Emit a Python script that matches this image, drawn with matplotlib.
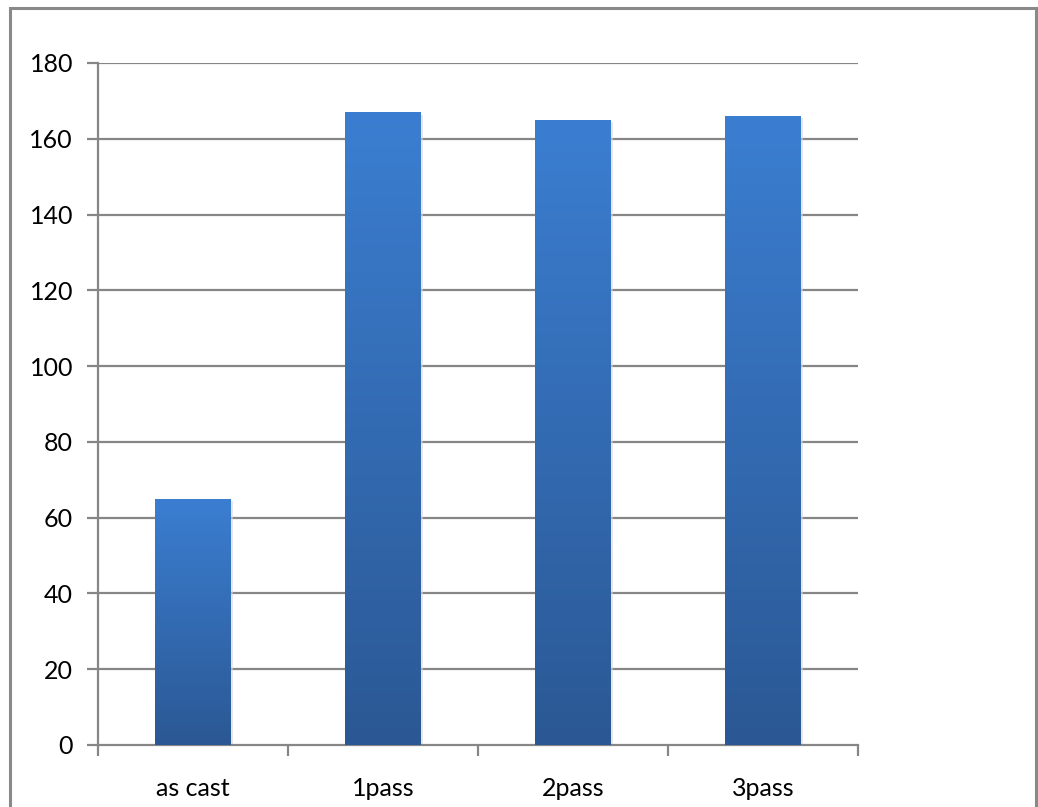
import matplotlib
matplotlib.use("Agg")
import matplotlib.pyplot as plt
import numpy as np
from matplotlib.patches import Rectangle
from matplotlib.colors import LinearSegmentedColormap

categories = ["as cast", "1pass", "2pass", "3pass"]
values = [65, 167, 165, 166]
yticks = [0, 20, 40, 60, 80, 100, 120, 140, 160, 180]

plt.rcParams['font.family'] = ['Lato', 'DejaVu Sans']

W, H = 1038, 807
fig = plt.figure(figsize=(W/100, H/100), dpi=100)
fig.patch.set_facecolor('white')

# outer chart border
border = Rectangle((9.5/W, -0.05), (1036-9.5)/W, 1.05 - 7.5/H,
                   transform=fig.transFigure, fill=False,
                   edgecolor='#898989', linewidth=2.2, zorder=0)
fig.add_artist(border)

ax = fig.add_axes([98/W, 1-745/H, (858-98)/W, (745-63)/H])

gray = '#868686'
for s in ['top', 'right']:
    ax.spines[s].set_visible(False)
for s in ['left', 'bottom']:
    ax.spines[s].set_color(gray)
    ax.spines[s].set_linewidth(1.6)

ax.set_yticks(yticks)
ax.set_yticklabels([str(v) for v in yticks], fontsize=18)
ax.tick_params(axis='y', length=8, width=1.6, color=gray, pad=10)
for y in yticks[1:]:
    ax.axhline(y, color=gray, linewidth=1.6, zorder=1)

x = np.arange(len(categories))
ax.set_xticks(x)
ax.set_xticklabels(categories, fontsize=18)
ax.tick_params(axis='x', which='major', length=0, pad=23)
ax.set_xticks(np.arange(-0.5, len(categories)), minor=True)
ax.tick_params(axis='x', which='minor', length=8, width=1.6, color=gray)

cmap = LinearSegmentedColormap.from_list('bar', ['#2b5894', '#3b7ed1'])
grad = np.linspace(0, 1, 256).reshape(-1, 1)
bw = 0.4
bars = ax.bar(x, values, width=bw, color='none', zorder=3)
for b, v in zip(bars, values):
    x0 = b.get_x()
    ax.add_patch(Rectangle((x0+0.008, 0), bw, v-0.6, facecolor='#d8d8d8',
                           edgecolor='none', zorder=2, alpha=0.6))
    im = ax.imshow(grad, cmap=cmap, aspect='auto', origin='lower',
                   extent=(x0, x0+bw, 0, v), zorder=3)
    im.set_clip_path(b)

ax.set_xlim(-0.5, len(categories)-0.5)
ax.set_ylim(0, 180)

fig.savefig('out.png', dpi=100, facecolor='white')
